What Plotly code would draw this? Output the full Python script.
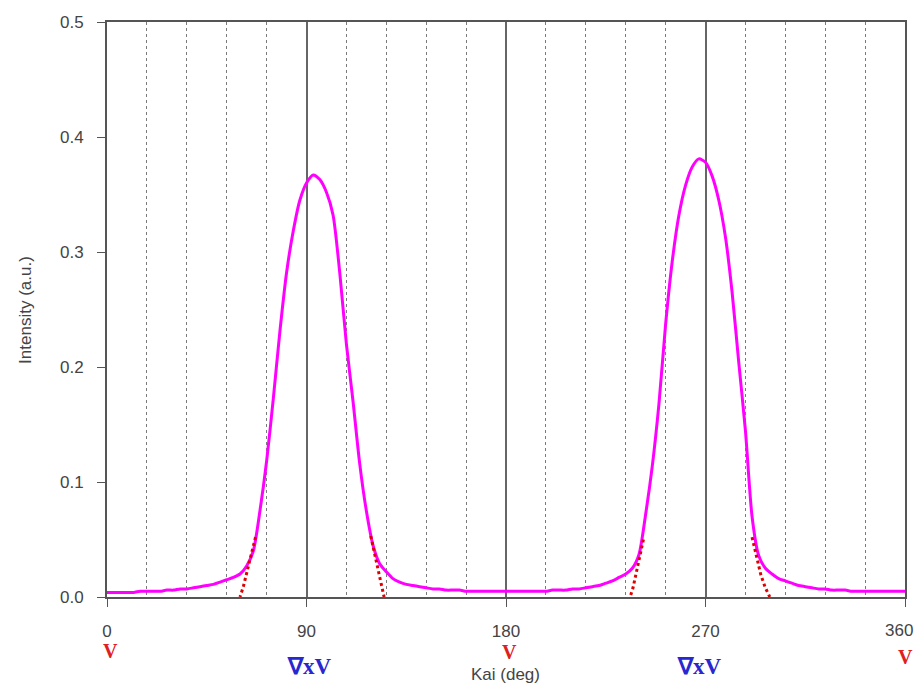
import plotly.graph_objects as go

# Measured intensity profile (Kai in degrees, intensity a.u.)
kai = list(range(0, 361, 3))
intensity = [
    0.004, 0.004, 0.004, 0.004, 0.004, 0.005, 0.005, 0.005, 0.005, 0.006,  # 0-27
    0.006, 0.007, 0.007, 0.008, 0.009, 0.010, 0.011, 0.013, 0.015, 0.017,  # 30-57
    0.020, 0.027, 0.040, 0.075, 0.118, 0.172, 0.231, 0.282, 0.318, 0.345,  # 60-87
    0.360, 0.367, 0.363, 0.352, 0.332, 0.282, 0.220, 0.170, 0.116, 0.075,  # 90-117
    0.045, 0.029, 0.022, 0.016, 0.013, 0.011, 0.010, 0.009, 0.008, 0.007,  # 120-147
    0.007, 0.006, 0.006, 0.006, 0.005, 0.005, 0.005, 0.005, 0.005, 0.005,  # 150-177
    0.005, 0.005, 0.005, 0.005, 0.005, 0.005, 0.005, 0.006, 0.006, 0.006,  # 180-207
    0.007, 0.007, 0.008, 0.009, 0.010, 0.012, 0.014, 0.017, 0.020, 0.025,  # 210-237
    0.037, 0.072, 0.114, 0.168, 0.237, 0.292, 0.332, 0.358, 0.374, 0.381,  # 240-267
    0.378, 0.366, 0.345, 0.313, 0.265, 0.204, 0.145, 0.070, 0.036, 0.025,  # 270-297
    0.020, 0.016, 0.014, 0.012, 0.010, 0.009, 0.008, 0.007, 0.007, 0.006,  # 300-327
    0.006, 0.006, 0.005, 0.005, 0.005, 0.005, 0.005, 0.005, 0.005, 0.005,  # 330-357
    0.005,                                                                 # 360
]

# Red dotted fit tails
fit1_left_x = [67.0, 65.0, 63.0, 61.5, 60.0]
fit1_left_y = [0.052, 0.036, 0.020, 0.009, 0.0]
fit1_right_x = [119.0, 121.0, 122.5, 123.8, 125.0]
fit1_right_y = [0.053, 0.036, 0.022, 0.010, 0.0]
fit2_left_x = [242.0, 240.0, 238.5, 237.3, 236.0]
fit2_left_y = [0.050, 0.033, 0.018, 0.008, 0.0]
fit2_right_x = [291.0, 293.0, 295.0, 297.0, 299.0]
fit2_right_y = [0.052, 0.034, 0.019, 0.008, 0.0]

x_ticks = [0, 90, 180, 270, 360]
x_tick_labels = ["0", "90", "180", "270", "360"]
y_ticks = [0.0, 0.1, 0.2, 0.3, 0.4, 0.5]

v_positions = [0, 180, 360]
curl_positions = [90, 270]

fig = go.Figure()

fig.add_trace(go.Scatter(
    x=kai, y=intensity, mode="lines",
    line=dict(color="#FF00FF", width=3, shape="spline", smoothing=0.7),
    showlegend=False, hoverinfo="skip",
))

for fx, fy in [(fit1_left_x, fit1_left_y), (fit1_right_x, fit1_right_y),
               (fit2_left_x, fit2_left_y), (fit2_right_x, fit2_right_y)]:
    fig.add_trace(go.Scatter(
        x=fx, y=fy, mode="lines",
        line=dict(color="#E00000", width=3, dash="dot"),
        showlegend=False, hoverinfo="skip",
    ))

tick_font = dict(family="Liberation Sans, Arial, sans-serif", size=17, color="#444444")

# last tick label is drawn as an annotation so it stays inside the page edge
fig.update_xaxes(
    range=[0, 360], tickvals=x_ticks, ticktext=x_tick_labels[:-1] + [""],
    ticks="outside", ticklen=8, tickcolor="#555555", ticklabelstandoff=10,
    ticklabeloverflow="allow", automargin=False,
    showgrid=True, gridcolor="#666666", gridwidth=1.5,
    minor=dict(dtick=18, tick0=0, showgrid=True, gridcolor="#7a7a7a",
               griddash="dot", gridwidth=1, ticks=""),
    showline=True, linecolor="#555555", linewidth=2, mirror=True,
    zeroline=False, tickfont=tick_font,
)
fig.update_yaxes(
    range=[0, 0.5], tickvals=y_ticks, ticktext=[f"{v:.1f}" for v in y_ticks],
    ticks="outside", ticklen=8, tickcolor="#555555", ticklabelstandoff=10,
    automargin=False,
    showgrid=False, showline=True, linecolor="#555555", linewidth=2, mirror=True,
    zeroline=False, tickfont=tick_font,
)

annotations = [dict(
    x=x_ticks[-1], y=-0.059, xref="x", yref="paper", xshift=10, text=x_tick_labels[-1],
    showarrow=False, font=tick_font, xanchor="right", yanchor="middle",
)]
v_offsets = {0: (3, -0.094), 180: (3, -0.095), 360: (0, -0.104)}
for p in v_positions:
    dx, py = v_offsets[p]
    annotations.append(dict(
        x=p, y=py, xref="x", yref="paper", xshift=dx, text="<b>V</b>",
        showarrow=False, font=dict(family="Liberation Serif, Times New Roman, serif",
                                   size=20, color="#E02020"),
        xanchor="center", yanchor="middle",
    ))
curl_offsets = {90: 3, 270: -6}
for p in curl_positions:
    annotations.append(dict(
        x=p, y=-0.12, xref="x", yref="paper", xshift=curl_offsets[p], text="<b>∇xV</b>",
        showarrow=False, font=dict(family="Liberation Serif, Times New Roman, serif",
                                   size=23, color="#2828D0"),
        xanchor="center", yanchor="middle",
    ))
annotations.append(dict(
    x=0.499, y=-0.134, xref="paper", yref="paper", text="Kai (deg)",
    showarrow=False, font=dict(family="Liberation Sans, Arial, sans-serif", size=17, color="#444444"),
    xanchor="center", yanchor="middle",
))
annotations.append(dict(
    x=-0.103, y=0.499, xref="paper", yref="paper", text="Intensity (a.u.)",
    textangle=-90, showarrow=False,
    font=dict(family="Liberation Sans, Arial, sans-serif", size=17, color="#444444"),
    xanchor="center", yanchor="middle",
))

fig.update_layout(
    width=908, height=682,
    margin=dict(l=99, r=11, t=14, b=93, autoexpand=False),
    paper_bgcolor="white", plot_bgcolor="white",
    annotations=annotations, showlegend=False,
)

fig.write_html("out.html")
